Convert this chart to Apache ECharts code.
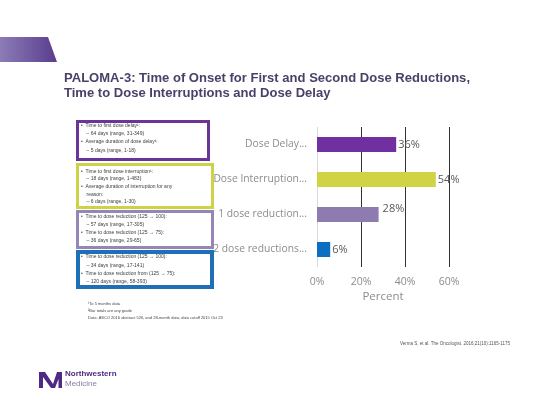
<!DOCTYPE html>
<html>
<head>
<meta charset="utf-8">
<script src="https://cdn.jsdelivr.net/npm/echarts@6/dist/echarts.min.js"></script>
<style>html,body{margin:0;padding:0;background:#fff;}#c{width:540px;height:405px;}</style>
</head>
<body>
<div id="c"></div>
<script>
// ---- data ----
var categories = ['Dose Delay...', 'Dose Interruption...', '1 dose reduction...', '2 dose reductions...'];
var values = [36, 54, 28, 6];
var barColors = ['#7030A0', '#D0D444', '#8E7CB0', '#0A6FC0'];
var xTicks = [0, 20, 40, 60];
var titleLines = ['PALOMA-3: Time of Onset for First and Second Dose Reductions,', 'Time to Dose Interruptions and Dose Delay'];
var box1Lines = ['\u2022  Time to first dose delay\u00b9:', '    \u2013 64 days (range, 31-349)', '\u2022  Average duration of dose delay\u00b9:', '    \u2013 5 days (range, 1-18)'];
var box2Lines = ['\u2022  Time to first dose interruption\u00b9:', '    \u2013 18 days (range, 1-483)', '\u2022  Average duration of interruption for any', '    reason:', '    \u2013 6 days (range, 1-30)'];
var box3Lines = ['\u2022  Time to dose reduction (125 \u2192 100):', '    \u2013 57 days (range, 17-305)', '\u2022  Time to dose reduction (125 \u2192 75):', '    \u2013 36 days (range, 29-65)'];
var box4Lines = ['\u2022  Time to dose reduction (125 \u2192 100):', '    \u2013 34 days (range, 17-141)', '\u2022  Time to dose reduction from (125 \u2192 75):', '    \u2013 120 days (range, 58-393)'];
var footLines = ['\u00b9To 5 months data', '\u00b2Bar totals are any grade', 'Data: ASCO 2016 abstract 526, and 28-month data; data cutoff 2015 Oct 23'];
var refText = 'Verma S, et al. The Oncologist. 2016;21(10):1165-1175';

var chart = echarts.init(document.getElementById('c'), null, {renderer: 'canvas'});
var uiFont = '"Open Sans", "Noto Sans", sans-serif';
var titleFont = '"Liberation Sans", Arial, sans-serif';
var titleSize = 13.5;

// horizontal squeeze factor so the title line fits its original width
var mctx = document.createElement('canvas').getContext('2d');
mctx.font = 'bold ' + titleSize + 'px ' + titleFont;
var titleScale = 406 / mctx.measureText(titleLines[0]).width;

function boxText(lines, x, y0, dy) {
  return lines.map(function (t, i) {
    return {type: 'text', left: x, top: y0 + i * dy,
      style: {text: t, fontSize: 5, fill: '#404040', fontFamily: 'Liberation Sans, sans-serif'}};
  });
}
function box(x, y, w, h, color, lw) {
  return {type: 'rect', shape: {x: x, y: y, width: w, height: h},
    style: {fill: '#fff', stroke: color, lineWidth: lw}, z: 1};
}

var graphics = [
  {type: 'polygon', shape: {points: [[0, 37], [48, 37], [57, 62], [0, 62]]},
   style: {fill: new echarts.graphic.LinearGradient(0, 0, 1, 0, [{offset: 0, color: '#8C7CB6'}, {offset: 1, color: '#5A3D8E'}])}},
  box(77.5, 121.5, 131, 38, '#6B3597', 3),
  box(77.5, 164.5, 135, 43, '#CDD246', 3),
  box(77.5, 211.5, 135, 36, '#9486B6', 3),
  box(78, 252, 134, 35, '#1E6EB8', 4),
  // title
  {type: 'text', x: 64, y: 71.5, scaleX: titleScale,
   style: {text: titleLines[0], fontSize: titleSize, fontWeight: 'bold', fill: '#4B4168', fontFamily: titleFont, verticalAlign: 'top'}},
  {type: 'text', x: 64, y: 86, scaleX: titleScale,
   style: {text: titleLines[1], fontSize: titleSize, fontWeight: 'bold', fill: '#4B4168', fontFamily: titleFont, verticalAlign: 'top'}},
  // logo
  {type: 'polygon', shape: {points: [[39, 372], [45, 372], [53, 384], [57, 372], [62, 372], [62, 388], [58.5, 388], [58.5, 379], [55, 388], [51, 388], [43, 377], [43, 388], [39, 388]]},
   style: {fill: '#4E2A84'}},
  {type: 'text', left: 65, top: 370, style: {text: 'Northwestern', fontSize: 8, fontWeight: 'bold', fill: '#4E2A84', fontFamily: 'Liberation Sans, sans-serif'}},
  {type: 'text', left: 65, top: 379.5, style: {text: 'Medicine', fontSize: 8, fill: '#8A7BA6', fontFamily: 'Liberation Sans, sans-serif'}},
  {type: 'text', left: 400, top: 341, style: {text: refText, fontSize: 4.5, fill: '#555', fontFamily: 'Liberation Sans, sans-serif'}}
];
graphics = graphics
  .concat(boxText(box1Lines, 81, 123, 8.3))
  .concat(boxText(box2Lines, 81, 169, 7.6))
  .concat(boxText(box3Lines, 81, 214, 8))
  .concat(boxText(box4Lines, 81, 254.5, 8.2))
  .concat(footLines.map(function (t, i) {
    return {type: 'text', left: 88, top: 302 + i * 7, style: {text: t, fontSize: 4, fill: '#444', fontFamily: 'Liberation Sans, sans-serif'}};
  }));
graphics.forEach(function (g) { if (g.z === undefined) g.z = 2; });

chart.setOption({
  animation: false,
  grid: {left: 317, top: 127, width: 132, height: 140},
  xAxis: {
    type: 'value', min: xTicks[0], max: xTicks[xTicks.length - 1], interval: 20,
    name: 'Percent', nameLocation: 'middle', nameGap: 24,
    nameTextStyle: {color: '#8c8c8c', fontSize: 11.5, fontFamily: uiFont},
    axisLine: {show: false}, axisTick: {show: false},
    axisLabel: {formatter: '{value}%', color: '#8c8c8c', fontSize: 10.5, fontFamily: uiFont, margin: 10},
    splitLine: {show: true, lineStyle: {color: ['#d9d9d9', '#333', '#333', '#333'], width: 1}}
  },
  yAxis: {
    type: 'category', data: categories, inverse: true,
    axisLine: {show: false}, axisTick: {show: false},
    axisLabel: {color: '#8c8c8c', fontSize: 10.3, fontFamily: uiFont, margin: 10}
  },
  series: [{
    type: 'bar', barWidth: 15,
    data: values.map(function (v, i) {
      var d = {value: v, itemStyle: {color: barColors[i]}};
      if (v === 28) d.label = {offset: [2, -6]};
      return d;
    }),
    label: {show: true, position: 'right', distance: 2, formatter: '{c}%', color: '#595959', fontSize: 11, fontFamily: uiFont}
  }],
  graphic: graphics
});
</script>
</body>
</html>
